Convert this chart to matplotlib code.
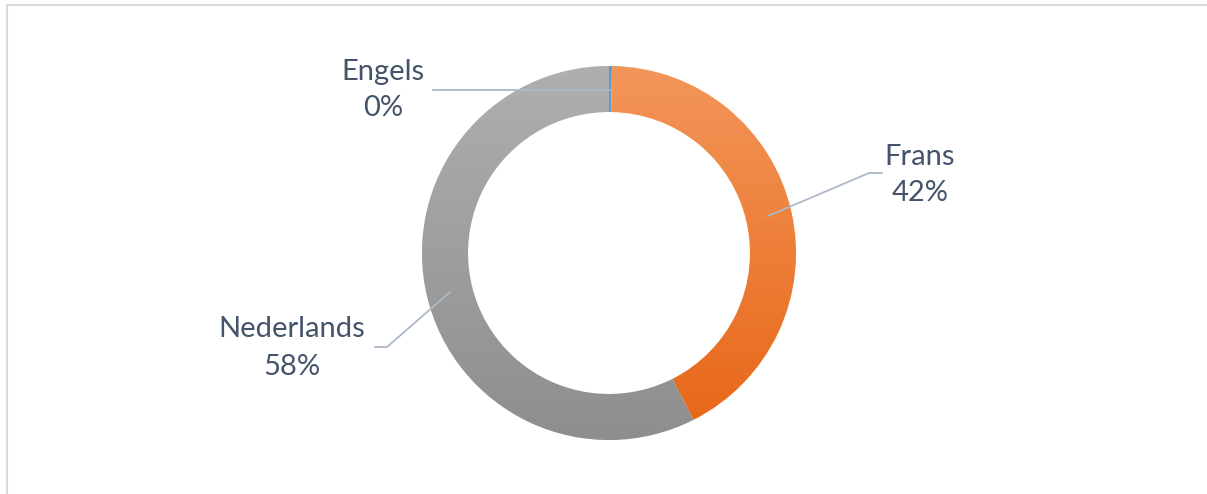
import numpy as np
import matplotlib.pyplot as plt
from matplotlib.colors import LinearSegmentedColormap

W, H = 1207, 494

labels = ['Engels', 'Frans', 'Nederlands']
values = [0.25, 42.3, 57.45]
pct_text = ['0%', '42%', '58%']
top_colors = ['#5B9BD5', '#F3965A', '#AFAFAF']
bot_colors = ['#5B9BD5', '#E8681A', '#8E8E8E']

fig = plt.figure(figsize=(W / 100, H / 100), dpi=100)
ax = fig.add_axes([0, 0, 1, 1])

cx, cy, r = 609, H - 253, 187
wedges, _ = ax.pie(values, startangle=90, counterclock=False, radius=r,
                   center=(cx, cy), frame=True,
                   wedgeprops=dict(width=46, edgecolor='white', linewidth=0.6))

# vertical gradient fill for each wedge
for w, c0, c1 in zip(wedges, top_colors, bot_colors):
    verts = w.get_path().vertices
    y0, y1 = verts[:, 1].min(), verts[:, 1].max()
    x0, x1 = verts[:, 0].min(), verts[:, 0].max()
    cmap = LinearSegmentedColormap.from_list('g', [c1, c0])
    grad = np.linspace(0, 1, 256).reshape(-1, 1)
    im = ax.imshow(grad, cmap=cmap, extent=(x0, x1, y0, y1), origin='lower',
                   aspect='auto', zorder=w.get_zorder() + 0.1)
    im.set_clip_path(w)

ax.set_xlim(0, W)
ax.set_ylim(0, H)
ax.set_aspect('auto')
ax.axis('off')

# leader lines
lc = '#ADB9CA'
ax.plot([610, 433], [H - 90, H - 90], color=lc, lw=1.3, zorder=5)
ax.plot([768, 869, 882], [H - 216, H - 173, H - 173], color=lc, lw=1.3, zorder=5)
ax.plot([450, 387, 375], [H - 292, H - 347, H - 347], color=lc, lw=1.3, zorder=5)

tc = '#44546A'
pos = [(383, 72, 108), (920, 157, 193), (292, 329, 367)]
for lab, pt, (x, y1, y2) in zip(labels, pct_text, pos):
    ax.text(x, H - y1, lab, ha='center', va='center', fontsize=21,
            family='Lato', color=tc)
    ax.text(x, H - y2, pt, ha='center', va='center', fontsize=21,
            family='Lato', color=tc)

# chart frame
fc = '#D9D9D9'
ax.plot([6.5, 6.5, W + 5], [-5, H - 5.5, H - 5.5], color=fc, lw=1.5, zorder=6,
        clip_on=False)

fig.savefig('out.png', dpi=100)
